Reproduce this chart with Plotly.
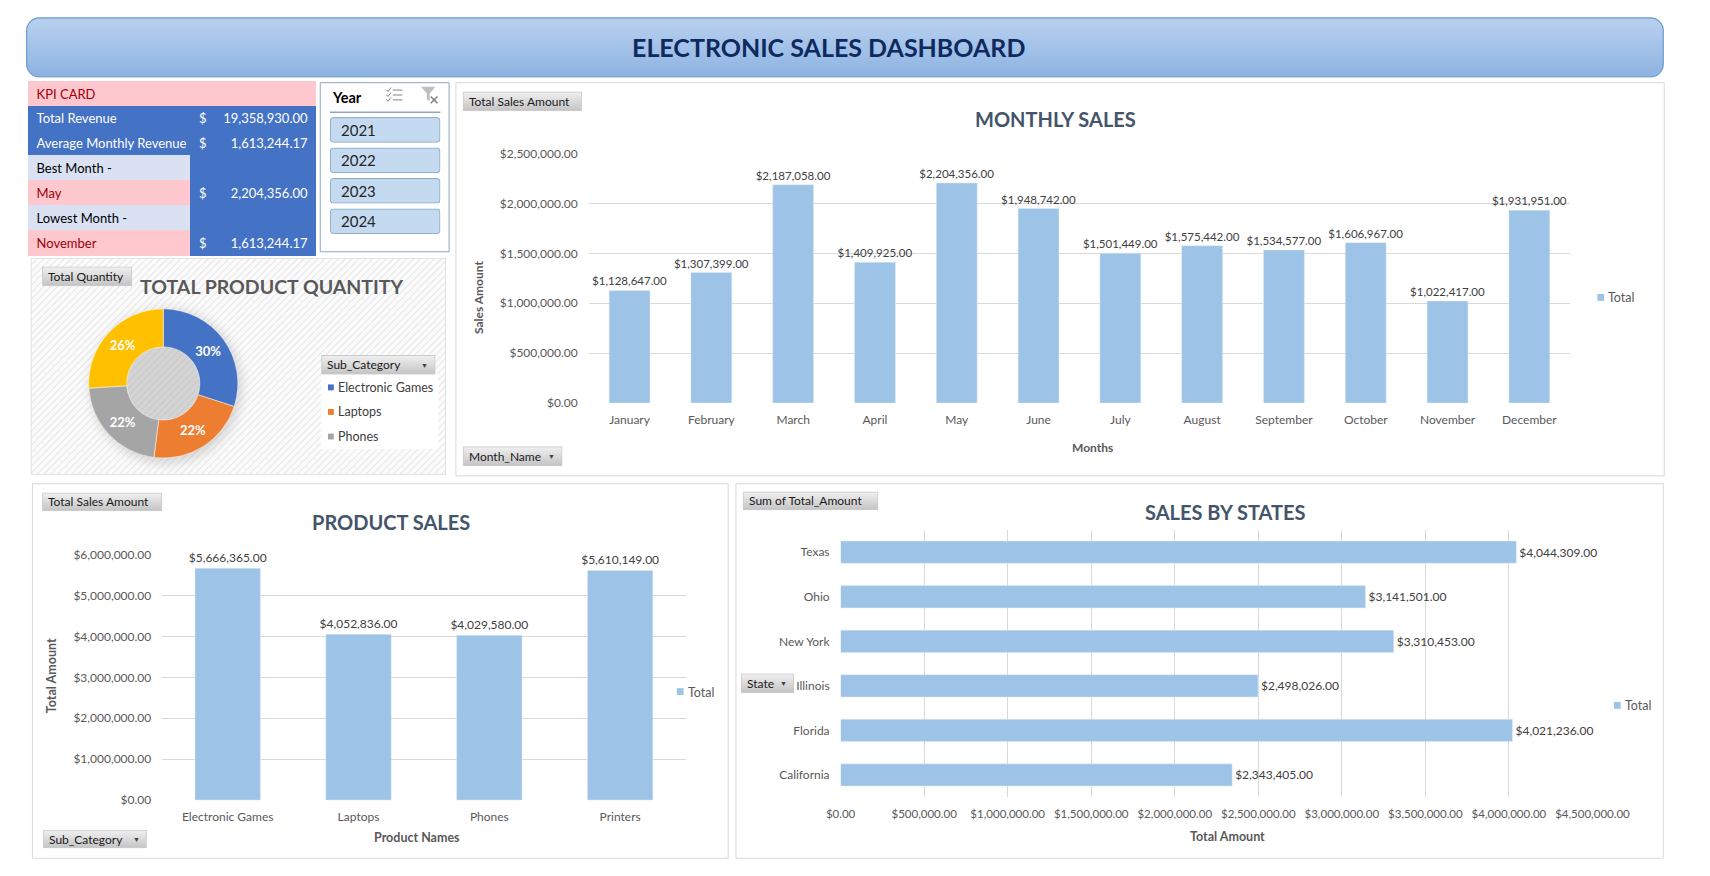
import base64
import plotly.graph_objects as go

W, H = 1710, 876
FONT = "Lato, 'Open Sans', sans-serif"

# ---------------- data ----------------
months = ["January", "February", "March", "April", "May", "June", "July",
          "August", "September", "October", "November", "December"]
monthly_sales = [1128647, 1307399, 2187058, 1409925, 2204356, 1948742,
                 1501449, 1575442, 1534577, 1606967, 1022417, 1931951]

products = ["Electronic Games", "Laptops", "Phones", "Printers"]
product_sales = [5666365, 4052836, 4029580, 5610149]

states = ["Texas", "Ohio", "New York", "Illinois", "Florida", "California"]
state_sales = [4044309, 3141501, 3310453, 2498026, 4021236, 2343405]

qty_share = [30, 22, 22, 26]          # % of total quantity, per product
qty_colors = ["#4472C4", "#ED7D31", "#A5A5A5", "#FFC000"]
legend_shown = 3                      # the slicer legend only shows 3 rows

years = ["2021", "2022", "2023", "2024"]

kpi_labels = ["Total Revenue", "Average Monthly Revenue", "Best Month -", "May",
              "Lowest Month -", "November"]
kpi_values = [19358930.00, 1613244.17, None, 2204356.00, None, 1613244.17]
kpi_kind = ["metric", "metric", "head", "month", "head", "month"]

series_name = "Total"
BAR = "#9DC3E6"


# ---------------- helpers ----------------
def fx(x):
    return x / W


def fy(y):
    return 1 - y / H


images, shapes, annotations = [], [], []


def add_svg(body, x0, y0, x1, y1, layer="below"):
    w, h = x1 - x0, y1 - y0
    svg = (f'<svg xmlns="http://www.w3.org/2000/svg" width="{w}" height="{h}" '
           f'viewBox="0 0 {w} {h}">{body}</svg>')
    src = "data:image/svg+xml;base64," + base64.b64encode(svg.encode()).decode()
    images.append(dict(source=src, xref="paper", yref="paper", x=fx(x0), y=fy(y0),
                       sizex=w / W, sizey=h / H, xanchor="left", yanchor="top",
                       sizing="stretch", layer=layer))


def text(x, y, s, size=12, color="#595959", bold=False, xanchor="center", angle=0):
    annotations.append(dict(x=fx(x), y=fy(y), xref="paper", yref="paper",
                            text=f"<b>{s}</b>" if bold else s, showarrow=False,
                            xanchor=xanchor, yanchor="middle", textangle=angle,
                            font=dict(size=size, color=color, family=FONT)))


def rect(x0, y0, x1, y1, line="#D9D9D9", fill="rgba(0,0,0,0)", width=1, layer="below"):
    shapes.append(dict(type="rect", xref="paper", yref="paper", x0=fx(x0), x1=fx(x1),
                       y0=fy(y0), y1=fy(y1), line=dict(color=line, width=width),
                       fillcolor=fill, layer=layer))


def gray_button(x0, y0, x1, y1, label, arrow=False):
    w, h = x1 - x0, y1 - y0
    body = ('<defs><linearGradient id="g" x1="0" y1="0" x2="0" y2="1">'
            '<stop offset="0" stop-color="#F0F0F0"/><stop offset="1" stop-color="#C4C4C4"/>'
            '</linearGradient></defs>'
            f'<rect x="0.5" y="0.5" width="{w - 1}" height="{h - 1}" fill="url(#g)" stroke="#C8C8C8"/>')
    add_svg(body, x0, y0, x1, y1, layer="above")
    text(x0 + 4, (y0 + y1) / 2, label, size=12, color="#1A1A1A", xanchor="left")
    if arrow:
        text(x1 - 11, (y0 + y1) / 2, "▼", size=7, color="#404040")


def legend_total(x, y):
    rect(x, y - 4, x + 7, y + 3, line=BAR, fill=BAR, width=0)
    text(x + 9, y, series_name, size=12.5, color="#595959", xanchor="left")


# ---------------- page decoration ----------------
# title bar
add_svg('<defs><linearGradient id="t" x1="0" y1="0" x2="0" y2="1">'
        '<stop offset="0" stop-color="#B9D1EE"/><stop offset="1" stop-color="#8DB3E2"/>'
        '</linearGradient></defs>'
        '<rect x="1" y="1" width="1689" height="60" rx="13" ry="13" fill="url(#t)" '
        'stroke="#6C9AD0" stroke-width="1.2"/>', 11, 9, 1702, 71)
text(840, 40, "ELECTRONIC SALES DASHBOARD", size=25, color="#0E2A5E", bold=True)

# panels
rect(455, 76, 1702, 476)
rect(18, 484, 736, 865)
rect(744, 484, 1701, 865)

# hatched panel behind the donut
add_svg('<defs><pattern id="p" width="5" height="5" patternUnits="userSpaceOnUse" '
        'patternTransform="rotate(45)"><rect width="5" height="5" fill="#FBFBFB"/>'
        '<line x1="0" y1="0" x2="0" y2="5" stroke="#E6E6E6" stroke-width="2"/></pattern></defs>'
        '<rect x="0.5" y="0.5" width="428" height="220" fill="url(#p)" stroke="#D9D9D9"/>',
        16, 254, 445, 475)
# soft shadow of the donut
add_svg('<defs><filter id="b" x="-30%" y="-30%" width="160%" height="160%">'
        '<feGaussianBlur stdDeviation="6"/></filter></defs>'
        '<circle cx="94" cy="96" r="78" fill="#9A9A9A" fill-opacity="0.4" filter="url(#b)"/>',
        62, 289, 250, 481)

# Year slicer
rect(315, 76, 448, 248, line="#8EA7C2", fill="white")
text(325, 91, "Year", size=14.5, color="#000000", bold=True, xanchor="left")
shapes.append(dict(type="line", xref="paper", yref="paper", x0=fx(325), x1=fx(439),
                   y0=fy(106), y1=fy(106), line=dict(color="#8EA7C2", width=1.5)))
icon_sel = "".join(
    f'<polyline points="1,{3 + 5 * i} 3,{5 + 5 * i} 6,{1 + 5 * i}" fill="none" stroke="#7F7F7F" stroke-width="1"/>'
    f'<line x1="8" y1="{3.5 + 5 * i}" x2="18" y2="{3.5 + 5 * i}" stroke="#7F7F7F" stroke-width="1"/>'
    for i in range(3))
add_svg(icon_sel, 382, 80, 400, 96, layer="above")
add_svg('<polygon points="2,1 17,1 11,8 11,16 8,14 8,8" fill="#BFBFBF"/>'
        '<line x1="12" y1="11" x2="19" y2="18" stroke="#7F7F7F" stroke-width="1.5"/>'
        '<line x1="19" y1="11" x2="12" y2="18" stroke="#7F7F7F" stroke-width="1.5"/>',
        417, 79, 437, 98, layer="above")
for i, yr in enumerate(years):
    y0 = 111 + 31 * i
    add_svg('<rect x="0.5" y="0.5" width="113" height="25" rx="3" ry="3" '
            'fill="#C3DAF0" stroke="#8DA8C3"/>', 325, y0, 439, y0 + 26, layer="above")
    text(334, y0 + 13, yr, size=15, color="#262626", xanchor="left")

# pie legend (slicer style)
rect(316, 373, 437, 449, line="rgba(0,0,0,0)", fill="white")
gray_button(316, 353, 434, 373, "Sub_Category", arrow=True)
for i in range(legend_shown):
    yy = 386 + 25 * i
    rect(323, yy - 3, 329, yy + 3, line=qty_colors[i], fill=qty_colors[i], width=0)
    text(331, yy, products[i], size=12.5, color="#404040", xanchor="left")

# field buttons
gray_button(462, 85, 585, 105, "Total Sales Amount")
gray_button(462, 446, 565, 466, "Month_Name", arrow=True)
gray_button(28, 263, 121, 283, "Total Quantity")
gray_button(28, 493, 152, 512, "Total Sales Amount")
gray_button(29, 836, 136, 855, "Sub_Category", arrow=True)
gray_button(751, 492, 891, 511, "Sum of Total_Amount")
gray_button(749, 677, 804, 697, "State", arrow=True)

# chart titles / axis titles / legends
TITLE = "#44546A"
text(1074, 113, "MONTHLY SALES", size=20, color=TITLE, bold=True)
text(265, 283, "TOTAL PRODUCT QUANTITY", size=19.5, color="#595959", bold=True)
text(388, 523, "PRODUCT SALES", size=20, color=TITLE, bold=True)
text(1249, 513, "SALES BY STATES", size=20, color=TITLE, bold=True)

text(479, 295, "Sales Amount", size=12, bold=True, angle=-90)
text(1112, 447, "Months", size=12, bold=True)
text(38, 679, "Total Amount", size=12.5, bold=True, angle=-90)
text(415, 844, "Product Names", size=12.5, bold=True)
text(1251, 843, "Total Amount", size=12.5, bold=True)

legend_total(1633, 295)
legend_total(683, 696)
legend_total(1650, 710)

# ---------------- traces ----------------
fig = go.Figure()

label_font = dict(size=12, color="#404040", family=FONT)

fig.add_trace(go.Bar(x=months, y=monthly_sales, name=series_name, marker_color=BAR,
                     width=0.5, texttemplate="%{y:$,.2f}", textposition="outside",
                     constraintext="none", textfont=dict(label_font, size=11.5),
                     cliponaxis=False, showlegend=False, xaxis="x", yaxis="y"))

fig.add_trace(go.Bar(x=products, y=product_sales, name=series_name, marker_color=BAR,
                     width=0.5, texttemplate="%{y:$,.2f}", textposition="outside",
                     constraintext="none", textfont=label_font, cliponaxis=False,
                     showlegend=False, xaxis="x2", yaxis="y2"))

fig.add_trace(go.Bar(x=state_sales, y=states, orientation="h", name=series_name,
                     marker_color=BAR, width=0.5, texttemplate="%{x:$,.2f}",
                     textposition="outside", constraintext="none", textfont=label_font,
                     cliponaxis=False, showlegend=False, xaxis="x3", yaxis="y3"))

fig.add_trace(go.Pie(labels=products, values=qty_share, hole=0.49, sort=False,
                     direction="clockwise", rotation=0,
                     marker=dict(colors=qty_colors, line=dict(color="white", width=0.5)),
                     texttemplate="<b>%{percent:.0%}</b>", textposition="inside",
                     insidetextorientation="horizontal",
                     textfont=dict(size=13, color="white", family=FONT),
                     showlegend=False, hoverinfo="label+percent",
                     domain=dict(x=[fx(76), fx(230)], y=[fy(459), fy(305)])))

# KPI card as a table
BLUE, PINK, LIGHT, DARKRED = "#4472C4", "#FFC7CE", "#D9E1F2", "#9C0006"
lab_fill = {"metric": BLUE, "head": LIGHT, "month": PINK}
lab_color = {"metric": "white", "head": "#000000", "month": DARKRED}
col_label = [s.replace(" ", "\u00a0") for s in kpi_labels]   # keep each label on one line
col_cur = ["" if v is None else "$" for v in kpi_values]
col_val = ["" if v is None else f"{v:,.2f}" for v in kpi_values]
fills = [[lab_fill[k] for k in kpi_kind], [BLUE] * 6, [BLUE] * 6]
fcols = [[lab_color[k] for k in kpi_kind], ["white"] * 6, ["white"] * 6]

fig.add_trace(go.Table(
    domain=dict(x=[fx(14), fx(311)], y=[fy(262), fy(75)]),
    columnwidth=[168, 34, 95],
    header=dict(values=["KPI\u00a0CARD", "", ""], fill_color=PINK, line_color=PINK,
                align="left", height=24,
                font=dict(size=13, color=DARKRED, family=FONT)),
    cells=dict(values=[col_label, col_cur, col_val], fill_color=fills, line_color=fills,
               align=["left", "left", "right"], height=25,
               font=dict(size=13, color=fcols, family=FONT)),
))

# ---------------- layout ----------------
tick_font = dict(size=12, color="#595959", family=FONT)
GRID = "#D9D9D9"

fig.update_layout(
    width=W, height=H, margin=dict(l=0, r=0, t=0, b=0),
    paper_bgcolor="white", plot_bgcolor="rgba(0,0,0,0)",
    font=dict(family=FONT),
    showlegend=False,
    images=images, shapes=shapes, annotations=annotations,
    xaxis=dict(domain=[fx(592), fx(1605)], anchor="y", showgrid=False, ticks="",
               tickfont=tick_font, ticklabelstandoff=8, fixedrange=True),
    yaxis=dict(domain=[fy(402), fy(148)], anchor="x", range=[0, 2500000], dtick=500000,
               tickformat="$,.2f", gridcolor=GRID, zeroline=False, ticks="",
               tickfont=tick_font, ticklabelstandoff=10, fixedrange=True),
    xaxis2=dict(domain=[fx(152), fx(692)], anchor="y2", showgrid=False, ticks="",
                tickfont=tick_font, ticklabelstandoff=8, fixedrange=True),
    yaxis2=dict(domain=[fy(806), fy(556)], anchor="x2", range=[0, 6000000], dtick=1000000,
                tickformat="$,.2f", gridcolor=GRID, zeroline=False, ticks="",
                tickfont=tick_font, ticklabelstandoff=10, fixedrange=True),
    xaxis3=dict(domain=[fx(852), fx(1628)], anchor="y3", range=[0, 4500400], dtick=500000,
                tickformat="$,.2f", gridcolor=GRID, zeroline=False, ticks="",
                tickfont=dict(size=11.5, color="#595959", family=FONT),
                ticklabelstandoff=8, fixedrange=True),
    yaxis3=dict(domain=[fy(803), fy(531)], anchor="x3", autorange="reversed",
                showgrid=False, ticks="", tickfont=tick_font, ticklabelstandoff=10,
                fixedrange=True),
)

fig.write_html("out.html", config=dict(displayModeBar=False),
               post_script="document.body.style.margin='0';")
